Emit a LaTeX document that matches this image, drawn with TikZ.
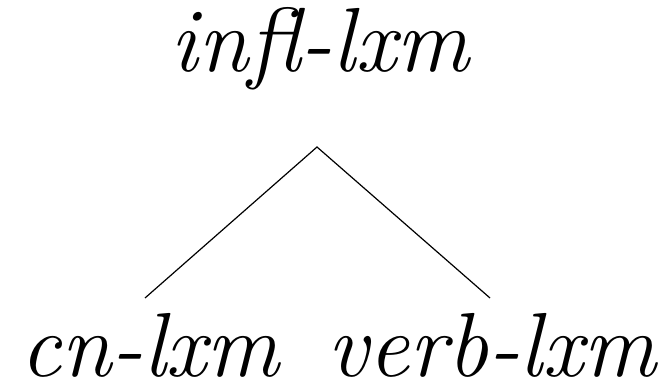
\documentclass[tikz,border=0pt]{standalone}
\usepackage{fontspec}
\tikzset{lbl/.style={font=\fontsize{91}{91}\selectfont\itshape, inner sep=0pt, anchor=base}}
\begin{document}
\begin{tikzpicture}[x=1pt,y=1pt]
\useasboundingbox (0,0) rectangle (664,389);
\node[lbl] (top) at (320,317) {infl-lxm};
\node[lbl] (cn) at (150,13) {cn-lxm};
\node[lbl] (verb) at (492,13) {verb-lxm};
\coordinate (apex) at (317,242);
\coordinate (cnend) at (145,91);
\coordinate (verbend) at (490,91);
\draw[line width=1.2pt] (cnend) -- (apex) -- (verbend);
\end{tikzpicture}
\end{document}
